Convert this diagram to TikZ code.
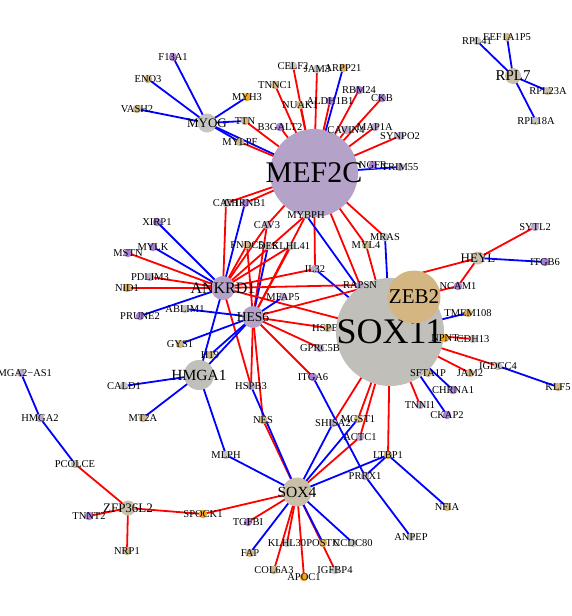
\documentclass[tikz,border=0pt]{standalone}
\usepackage{fontspec}
\setmainfont{Liberation Serif}
\usetikzlibrary{backgrounds}
\definecolor{ered}{RGB}{255,0,0}
\definecolor{eblue}{RGB}{0,0,255}
\definecolor{cpur}{RGB}{168,128,208}
\definecolor{clpur}{RGB}{186,170,202}
\definecolor{ctan}{RGB}{206,184,138}
\definecolor{cgold}{RGB}{222,176,92}
\definecolor{corg}{RGB}{234,168,40}
\definecolor{cgray}{RGB}{198,197,194}
\definecolor{hubpur}{RGB}{180,162,200}
\definecolor{hubgray}{RGB}{192,191,186}
\definecolor{hubtan}{RGB}{212,182,130}
\definecolor{hubtg}{RGB}{202,192,170}
\tikzset{
  sdot/.style={circle, fill=#1, draw=none, inner sep=0pt, minimum size=8.5pt},
  hubdot/.style={circle, fill=#1, draw=none, inner sep=0pt},
  lab/.style={font=\fontsize{10.5}{12}\selectfont, inner sep=0pt, text=black},
  redE/.style={draw=ered, line width=1.8pt},
  bluE/.style={draw=eblue, line width=1.8pt},
}
\newcommand\gn[5]{\node[sdot=#5, label={[lab]center:#2}] (#1) at (#3,#4) {};}
\newcommand\hubn[7]{\node[hubdot=#5, minimum size=#6pt, label={[lab, font=\fontsize{#7}{#7}\selectfont]center:#2}] (#1) at (#3,#4) {};}
\newcommand\redE[2]{\draw[redE] (#1.center) -- (#2.center);}
\newcommand\bluE[2]{\draw[bluE] (#1.center) -- (#2.center);}
\begin{document}
\begin{tikzpicture}[x=1pt,y=-1pt]
\useasboundingbox (0,0) rectangle (572,616);
% node hidden partly by SOX11
\gn{HSPB7}{HSPB7}{328}{328}{ctan}
% hubs
\hubn{SOX11}{SOX11}{390}{332}{hubgray}{108}{36}
\hubn{ZEB2}{ZEB2}{414}{297}{hubtan}{53}{21}
\hubn{MEF2C}{MEF2C}{314}{173}{hubpur}{88}{30}
\hubn{MYOG}{MYOG}{207}{123}{cgray}{19}{13}
\hubn{ANKRD1}{ANKRD1}{223}{288}{hubpur}{24}{16}
\hubn{HES6}{HES6}{253}{317}{hubpur}{22}{13.5}
\hubn{HMGA1}{HMGA1}{199}{375}{hubgray}{30}{15.5}
\hubn{SOX4}{SOX4}{297}{492}{hubtg}{29}{15.5}
\hubn{HEYL}{HEYL}{478}{258}{hubtg}{13}{13}
\hubn{RPL7}{RPL7}{513}{76}{hubtg}{16}{15}
\hubn{ZFP36L2}{ZFP36L2}{128}{508}{hubtg}{15}{13}
% small nodes
\gn{F13A1}{F13A1}{173}{57}{cpur}
\gn{ENO3}{ENO3}{148}{79}{ctan}
\gn{VASH2}{VASH2}{137}{109}{ctan}
\gn{MYH3}{MYH3}{247}{97}{corg}
\gn{TTN}{TTN}{245}{121}{ctan}
\gn{MYLPF}{MYLPF}{240}{142}{ctan}
\gn{TNNC1}{TNNC1}{275}{85}{ctan}
\gn{CELF2}{CELF2}{293}{66}{cgray}
\gn{JAM3}{JAM3}{317}{69}{cgray}
\gn{ARPP21}{ARPP21}{343}{68}{cgold}
\gn{NUAK1}{NUAK1}{300}{105}{ctan}
\gn{ALDH1B1}{ALDH1B1}{330}{101}{cpur}
\gn{RBM24}{RBM24}{359}{90}{cpur}
\gn{CKB}{CKB}{382}{98}{cpur}
\gn{B3GALT2}{B3GALT2}{280}{127}{cpur}
\gn{CAVIN4}{CAVIN4}{346}{130}{clpur}
\gn{MAP1A}{MAP1A}{375}{127}{clpur}
\gn{SYNPO2}{SYNPO2}{400}{136}{clpur}
\gn{NGFR}{NGFR}{373}{165}{cpur}
\gn{TRIM55}{TRIM55}{400}{167}{clpur}
\gn{CAV1}{CAV1}{226}{203}{cgray}
\gn{CHRNB1}{CHRNB1}{245}{203}{cpur}
\gn{CAV3}{CAV3}{267}{225}{clpur}
\gn{FNDC5}{FNDC5}{247}{245}{ctan}
\gn{DES}{DES}{268}{246}{cgray}
\gn{KLHL41}{KLHL41}{291}{246}{cgray}
\gn{MYBPH}{MYBPH}{306}{215}{cgray}
\gn{MYL4}{MYL4}{366}{245}{ctan}
\gn{MRAS}{MRAS}{385}{237}{cgray}
\gn{IL32}{IL32}{315}{269}{clpur}
\gn{RAPSN}{RAPSN}{360}{285}{clpur}
\gn{MFAP5}{MFAP5}{283}{297}{clpur}
\gn{XIRP1}{XIRP1}{157}{222}{cpur}
\gn{MYLK}{MYLK}{153}{247}{cpur}
\gn{MSTN}{MSTN}{128}{253}{cpur}
\gn{PDLIM3}{PDLIM3}{150}{277}{clpur}
\gn{NID1}{NID1}{127}{288}{cgold}
\gn{PRUNE2}{PRUNE2}{140}{316}{cpur}
\gn{ABLIM1}{ABLIM1}{185}{309}{cgray}
\gn{GYS1}{GYS1}{180}{344}{ctan}
\gn{H19}{H19}{210}{355}{ctan}
\gn{CALD1}{CALD1}{124}{386}{cgray}
\gn{MT2A}{MT2A}{143}{418}{ctan}
\gn{HSPB3}{HSPB3}{251}{386}{clpur}
\gn{NES}{NES}{263}{420}{ctan}
\gn{MLPH}{MLPH}{226}{455}{cgray}
\gn{GPRC5B}{GPRC5B}{320}{348}{clpur}
\gn{ITGA6}{ITGA6}{313}{377}{cpur}
\gn{SYTL2}{SYTL2}{535}{227}{clpur}
\gn{ITGB6}{ITGB6}{545}{262}{cpur}
\gn{NCAM1}{NCAM1}{458}{286}{cpur}
\gn{TMEM108}{TMEM108}{468}{313}{cgold}
\gn{NPNT}{NPNT}{445}{338}{corg}
\gn{CDH13}{CDH13}{473}{339}{cgray}
\gn{IGDCC4}{IGDCC4}{498}{366}{cgray}
\gn{KLF5}{KLF5}{558}{387}{ctan}
\gn{JAM2}{JAM2}{470}{373}{ctan}
\gn{SFTA1P}{SFTA1P}{428}{373}{ctan}
\gn{CHRNA1}{CHRNA1}{453}{390}{cpur}
\gn{TNNI1}{TNNI1}{420}{405}{clpur}
\gn{CKAP2}{CKAP2}{447}{415}{cpur}
\gn{MGST1}{MGST1}{358}{419}{ctan}
\gn{SHISA2}{SHISA2}{333}{423}{clpur}
\gn{ACTC1}{ACTC1}{360}{437}{clpur}
\gn{LTBP1}{LTBP1}{388}{455}{cgold}
\gn{PRRX1}{PRRX1}{365}{476}{clpur}
\gn{NFIA}{NFIA}{447}{507}{ctan}
\gn{ANPEP}{ANPEP}{411}{537}{cgray}
\gn{HMGA2AS1}{HMGA2−AS1}{21}{373}{clpur}
\gn{HMGA2}{HMGA2}{40}{418}{clpur}
\gn{PCOLCE}{PCOLCE}{75}{464}{cgray}
\gn{TNNT2}{TNNT2}{89}{516}{cpur}
\gn{NRP1}{NRP1}{127}{551}{ctan}
\gn{SPOCK1}{SPOCK1}{203}{514}{corg}
\gn{TGFBI}{TGFBI}{248}{522}{cpur}
\gn{FAP}{FAP}{250}{553}{ctan}
\gn{KLHL30}{KLHL30}{287}{543}{cgray}
\gn{POSTN}{POSTN}{323}{543}{cgold}
\gn{CCDC80}{CCDC80}{353}{543}{cgray}
\gn{COL6A3}{COL6A3}{274}{570}{ctan}
\gn{APOC1}{APOC1}{304}{577}{corg}
\gn{IGFBP4}{IGFBP4}{335}{570}{cgray}
\gn{RPL41}{RPL41}{477}{41}{cgray}
\gn{EEF1A1P5}{EEF1A1P5}{507}{37}{ctan}
\gn{RPL23A}{RPL23A}{548}{91}{hubtg}
\gn{RPL18A}{RPL18A}{536}{121}{cgray}
\begin{scope}[on background layer]
\fill[white] (0,0) rectangle (572,616);
% MYOG
\bluE{MYOG}{F13A1}\bluE{MYOG}{ENO3}\bluE{MYOG}{VASH2}\bluE{MYOG}{MYH3}
\bluE{MYOG}{TTN}\bluE{MYOG}{MYLPF}\bluE{MYOG}{MEF2C}
% MEF2C
\redE{MEF2C}{TNNC1}\redE{MEF2C}{CELF2}\redE{MEF2C}{JAM3}\redE{MEF2C}{NUAK1}
\redE{MEF2C}{ALDH1B1}\redE{MEF2C}{RBM24}\redE{MEF2C}{CKB}\redE{MEF2C}{B3GALT2}
\redE{MEF2C}{TTN}\redE{MEF2C}{MYLPF}\redE{MEF2C}{CAVIN4}\redE{MEF2C}{MAP1A}
\redE{MEF2C}{SYNPO2}\bluE{MEF2C}{ARPP21}\bluE{MEF2C}{TRIM55}
\redE{MEF2C}{CAV1}\redE{MEF2C}{CHRNB1}\redE{MEF2C}{MYBPH}\redE{MEF2C}{IL32}
\redE{MEF2C}{MYL4}\redE{MEF2C}{MRAS}\redE{MEF2C}{RAPSN}\redE{MEF2C}{CAV3}
% ANKRD1 / HES6
\redE{CAV1}{ANKRD1}\bluE{CHRNB1}{ANKRD1}
\redE{CAV3}{ANKRD1}\redE{CAV3}{HES6}\redE{FNDC5}{ANKRD1}\redE{FNDC5}{HES6}
\bluE{DES}{HES6}\redE{KLHL41}{ANKRD1}\redE{KLHL41}{HES6}
\redE{MYBPH}{ANKRD1}\redE{MYBPH}{HES6}\bluE{MYBPH}{SOX11}
\redE{IL32}{ANKRD1}\bluE{IL32}{SOX11}\redE{ANKRD1}{RAPSN}\redE{ANKRD1}{SOX11}
\bluE{ANKRD1}{XIRP1}\bluE{ANKRD1}{MYLK}\redE{ANKRD1}{MSTN}\redE{ANKRD1}{PDLIM3}
\redE{ANKRD1}{NID1}\bluE{ANKRD1}{PRUNE2}\bluE{ANKRD1}{HMGA1}\redE{ANKRD1}{HSPB3}
\bluE{HES6}{MFAP5}\redE{HES6}{HSPB7}\redE{HES6}{GPRC5B}\redE{HES6}{ITGA6}
\redE{HES6}{HEYL}\bluE{HES6}{ABLIM1}\bluE{HES6}{GYS1}\bluE{HES6}{H19}
\bluE{HES6}{HMGA1}\redE{HES6}{HSPB3}\redE{HES6}{NES}
% SOX11 / ZEB2 / HEYL
\redE{MYL4}{SOX11}\bluE{MRAS}{SOX11}
\redE{SOX11}{SHISA2}\redE{SOX11}{MGST1}\redE{SOX11}{ACTC1}\redE{SOX11}{LTBP1}
\redE{SOX11}{TNNI1}\bluE{SOX11}{CKAP2}\bluE{SOX11}{CHRNA1}\redE{SOX11}{JAM2}
\redE{SOX11}{IGDCC4}\redE{SOX11}{NPNT}\redE{SOX11}{CDH13}\bluE{SOX11}{TMEM108}
\redE{ZEB2}{NCAM1}\redE{NCAM1}{HEYL}\redE{HEYL}{SYTL2}\bluE{HEYL}{ITGB6}
\bluE{IGDCC4}{KLF5}
% SOX4
\redE{SOX4}{IGFBP4}
\bluE{SOX4}{MLPH}\redE{SOX4}{SPOCK1}\redE{SOX4}{TGFBI}\bluE{SOX4}{FAP}
\redE{SOX4}{COL6A3}\redE{SOX4}{KLHL30}\redE{SOX4}{APOC1}\bluE{SOX4}{POSTN}
\bluE{SOX4}{CCDC80}\bluE{SOX4}{LTBP1}\bluE{SOX4}{SHISA2}\bluE{SOX4}{MGST1}
\redE{SOX4}{ACTC1}\redE{SOX4}{NES}\bluE{SOX4}{HSPB3}
% HMGA1 / PRRX1
\bluE{HMGA1}{CALD1}\bluE{HMGA1}{MT2A}\bluE{HMGA1}{MLPH}
\bluE{PRRX1}{LTBP1}\bluE{PRRX1}{ANPEP}\bluE{PRRX1}{ITGA6}\bluE{LTBP1}{NFIA}
% ZFP36L2 / HMGA2
\redE{ZFP36L2}{PCOLCE}\redE{ZFP36L2}{TNNT2}\redE{ZFP36L2}{NRP1}\redE{ZFP36L2}{SPOCK1}
\bluE{HMGA2}{HMGA2AS1}\bluE{HMGA2}{PCOLCE}
% RPL7
\bluE{RPL7}{RPL41}\bluE{RPL7}{EEF1A1P5}\bluE{RPL7}{RPL23A}\bluE{RPL7}{RPL18A}
\end{scope}
\end{tikzpicture}
\end{document}
